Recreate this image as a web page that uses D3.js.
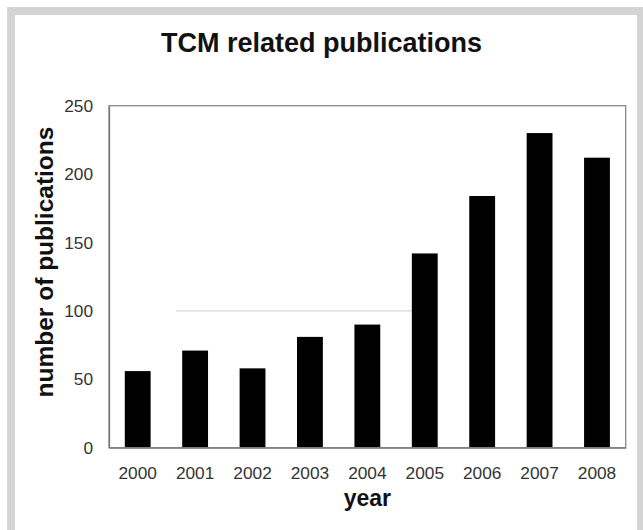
<!DOCTYPE html>
<html>
<head>
<meta charset="utf-8">
<script src="https://cdn.jsdelivr.net/npm/d3@7/dist/d3.min.js"></script>
<style>
  html, body { margin: 0; padding: 0; background: #fff; }
  svg { display: block; }
</style>
</head>
<body>
<svg id="chart" width="643" height="530"></svg>
<script>
const years = ["2000", "2001", "2002", "2003", "2004", "2005", "2006", "2007", "2008"];
const publications = [56, 71, 58, 81, 90, 142, 184, 230, 212];
const yTicks = [0, 50, 100, 150, 200, 250];
const titleText = "TCM related publications";
const xLabel = "year";
const yLabel = "number of publications";

const svg = d3.select("#chart");
const W = 643, H = 530;
const font = "'Liberation Sans', Arial, sans-serif";

// outer gray frame
svg.append("rect").attr("x", 7).attr("y", 7).attr("width", W).attr("height", H)
  .attr("fill", "#d4d4d4");
svg.append("rect").attr("x", 15).attr("y", 15).attr("width", 622).attr("height", H)
  .attr("fill", "#ffffff");

const m = { left: 109, top: 105.7, right: 625.7, bottom: 447.7 };

const x = d3.scaleBand().domain(years).range([m.left, m.right])
  .paddingInner(0.55).paddingOuter(0.275);
const y = d3.scaleLinear().domain([0, 250]).range([m.bottom, m.top]);

// faint line at 100
svg.append("line")
  .attr("x1", x("2001") - 6).attr("x2", x("2005"))
  .attr("y1", y(100)).attr("y2", y(100))
  .attr("stroke", "#cfcfcf").attr("stroke-width", 1);

// bars
svg.append("g").selectAll("rect").data(publications).join("rect")
  .attr("x", (d, i) => x(years[i]))
  .attr("y", d => y(d))
  .attr("width", x.bandwidth())
  .attr("height", d => y(0) - y(d))
  .attr("fill", "#000");

// plot frame
svg.append("rect")
  .attr("x", m.left).attr("y", m.top)
  .attr("width", m.right - m.left).attr("height", m.bottom - m.top)
  .attr("fill", "none").attr("stroke", "#8a8a8a").attr("stroke-width", 1.3);

// y axis
const yAxis = d3.axisLeft(y).tickValues(yTicks).tickSize(0).tickPadding(16);
const gy = svg.append("g").attr("transform", `translate(${m.left},0)`).call(yAxis);
gy.select(".domain").attr("stroke", "#777").attr("stroke-width", 1.3);
gy.selectAll("text").attr("font-family", font).attr("font-size", 17.3).attr("fill", "#333");

// x axis
const xAxis = d3.axisBottom(x).tickSize(0).tickPadding(19);
const gx = svg.append("g").attr("transform", `translate(0,${m.bottom})`).call(xAxis);
gx.select(".domain").attr("stroke", "#777").attr("stroke-width", 1.3);
gx.selectAll("text").attr("font-family", font).attr("font-size", 17.3).attr("fill", "#333");

// title
svg.append("text").attr("x", 321.5).attr("y", 51.5).attr("text-anchor", "middle")
  .attr("font-family", font).attr("font-weight", "bold").attr("font-size", 27)
  .attr("fill", "#111").text(titleText);

// x label
svg.append("text").attr("x", (m.left + m.right) / 2).attr("y", 506)
  .attr("text-anchor", "middle")
  .attr("font-family", font).attr("font-weight", "bold").attr("font-size", 23)
  .attr("fill", "#111").text(xLabel);

// y label
svg.append("text")
  .attr("transform", "translate(53,262) rotate(-90)")
  .attr("text-anchor", "middle")
  .attr("font-family", font).attr("font-weight", "bold").attr("font-size", 24.5)
  .attr("fill", "#111").text(yLabel);
</script>
</body>
</html>
